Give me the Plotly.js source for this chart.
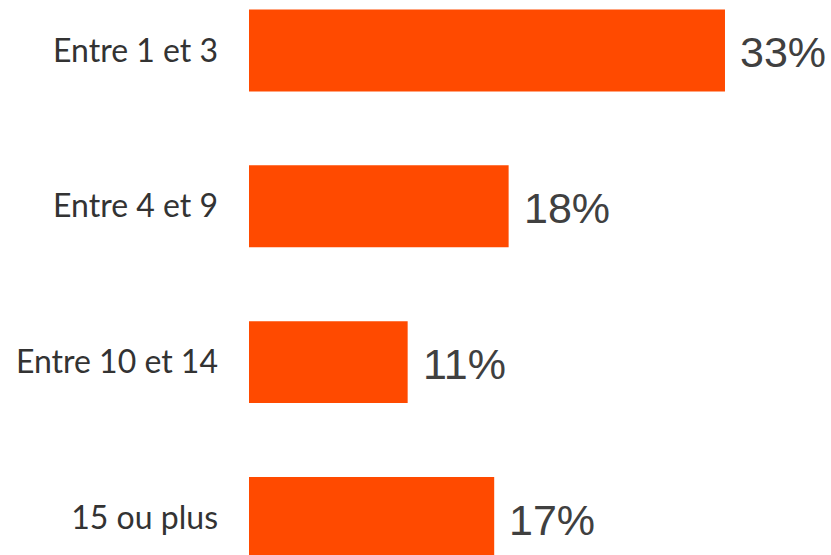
<!DOCTYPE html>
<html><head><meta charset="utf-8">
<script src="https://cdn.plot.ly/plotly-3.0.1.min.js"></script>
<style>html,body{margin:0;padding:0;background:#fff;}#chart{width:831px;height:555px;}</style>
</head><body><div id="chart"></div>
<script>
const categories = ["Entre 1 et 3", "Entre 4 et 9", "Entre 10 et 14", "15 ou plus"];
const values = [33, 18, 11, 17];
const valueLabels = values.map(v => v + "%");

const trace = {
  type: "bar", orientation: "h",
  x: values, y: categories,
  marker: {color: "#FF4A00"},
  hoverinfo: "none"
};
const annotations = categories.map((c, i) => ({
  x: values[i], y: c, xref: "x", yref: "y",
  text: valueLabels[i], showarrow: false,
  xanchor: "left", yanchor: "middle", xshift: 13, yshift: -2,
  font: {family: "Liberation Sans, Arial, sans-serif", size: 43, color: "#404040"}
}));
const layout = {
  width: 831, height: 555,
  margin: {l: 249, r: 0, t: 0, b: 0, pad: 0},
  paper_bgcolor: "#fff", plot_bgcolor: "#fff",
  bargap: 0.474,
  showlegend: false,
  xaxis: {range: [0, 40.35], visible: false, fixedrange: true},
  yaxis: {
    type: "category",
    range: [3.238, -0.324],
    showgrid: false, zeroline: false, showline: false,
    ticks: "", ticklabelstandoff: 30,
    tickfont: {family: "Lato, sans-serif", size: 32, color: "#333333"},
    automargin: false
  },
  annotations: annotations
};
Plotly.newPlot("chart", [trace], layout, {staticPlot: true, displayModeBar: false});
</script></body></html>
